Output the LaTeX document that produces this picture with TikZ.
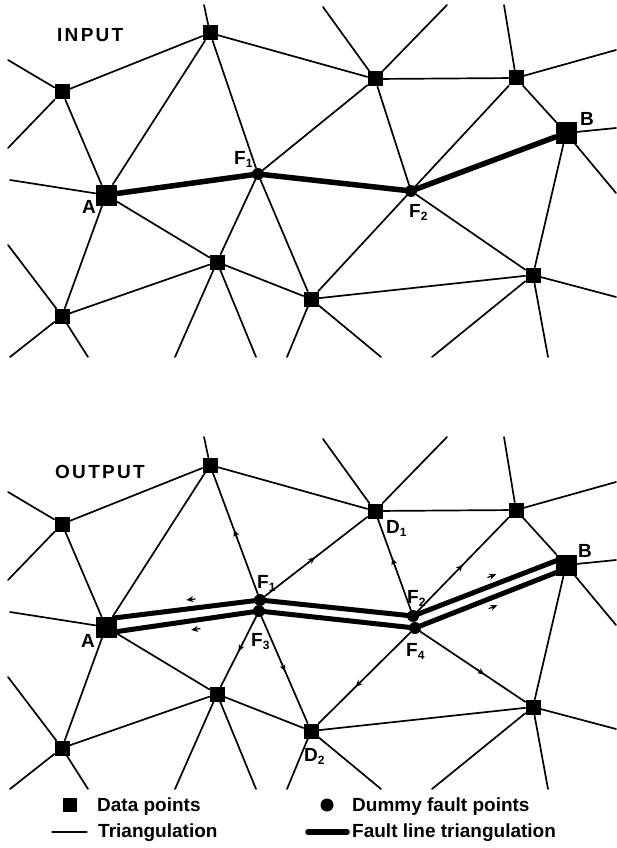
\documentclass[tikz,border=0pt]{standalone}
\usepackage{fontspec}
\setmainfont{Liberation Sans}
\newfontfamily\spacedfont{Liberation Sans}[LetterSpace=12]
\usetikzlibrary{arrows.meta,decorations.markings}
\tikzset{
    meshpic/.style={
        x=1pt, y=-1pt,
        line cap=round, line join=round,
    },
    datapt/.style={rectangle, fill=black, inner sep=0pt, minimum size=15pt},
    bigpt/.style={datapt, minimum size=21pt},
    faultpt/.style={circle, fill=black, inner sep=0pt, minimum size=12pt},
    tri/.style={line width=1.7pt},
    fault/.style={line width=5.5pt},
    faultband/.style={line width=5pt},
    ptlabel/.style={font=\bfseries\fontsize{19}{19}\selectfont, inner sep=0pt, anchor=base west},
    paneltitle/.style={font=\spacedfont\bfseries\fontsize{19}{19}\selectfont, inner sep=0pt, anchor=base west},
    keytext/.style={font=\bfseries\fontsize{19}{19}\selectfont, inner sep=0pt, anchor=base west},
    flowtip/.style={-{Stealth[length=7pt,width=6pt]}, line width=1.2pt},
    flow/.style={postaction={decorate, decoration={markings,
        mark=at position #1 with {\draw[flowtip] (-5pt,0pt) -- (4pt,0pt);}}}},
    sideflow/.style 2 args={postaction={decorate, decoration={markings,
        mark=at position #1 with {\draw[flowtip] (-5pt,#2) -- (4pt,#2);}}}},
}
\newcommand{\lsub}[1]{\raisebox{-3.5pt}{\fontsize{12}{12}\selectfont#1}}
% data points and the part of the triangulation both panels share
\newcommand{\meshpoints}{%
    \node[datapt] (n1) at (210,33) {};
    \node[datapt] (n2) at (62,92) {};
    \node[bigpt]  (A)  at (106,195) {};
    \node[datapt] (n3) at (375,79) {};
    \node[datapt] (n4) at (516,78) {};
    \node[bigpt]  (B)  at (566,133) {};
    \node[datapt] (n5) at (217,262) {};
    \node[datapt] (n6) at (62,316) {};
    \node[datapt] (n7) at (311,299) {};
    \node[datapt] (n8) at (533,275) {};
    \draw[tri] (n2) -- (n1) -- (n3) -- (n4) -- (B) -- (n8) -- (n7) -- (n5) -- (n6) -- (A) -- (n2)
        (n1) -- (A) -- (n5);
    % edges running out of the picture
    \foreach \nd/\ex/\ey [count=\k] in {n1/204/5, n2/8/60, n2/8/148, A/10/180, n3/323/7, n3/447/5,
        n4/504/5, n4/616/50, B/616/128, B/616/193, n5/175/357, n5/256/357, n6/8/245, n6/10/357,
        n6/88/357, n7/287/357, n7/381/357, n8/432/357, n8/548/357, n8/616/297}
      {\coordinate (e\k) at (\ex,\ey);
       \draw[tri] (\nd) -- (e\k);}
}

\begin{document}
\begin{tikzpicture}[meshpic]
    \useasboundingbox (0,0) rectangle (616,848);

    % INPUT
    \node[paneltitle] (intitle) at (57,42) {INPUT};
    \meshpoints
    \node[faultpt] (F1) at (258,174) {};
    \node[faultpt] (F2) at (411,191) {};
    \draw[tri] (n1) -- (F1) -- (n5) (n3) -- (F1) -- (n7)
        (n3) -- (F2) -- (n4) (n7) -- (F2) -- (n8);
    \draw[fault] (A) -- (F1.center) -- (F2.center) -- (B);
    \node[ptlabel] (lA) at (82,213) {A};
    \node[ptlabel] (lB) at (580,125) {B};
    \node[ptlabel] (lF1) at (234,164) {F\lsub{1}};
    \node[ptlabel] (lF2) at (409,217) {F\lsub{2}};

    % OUTPUT
    \begin{scope}[yshift=-432pt, name prefix=b-]
        \node[paneltitle] (outtitle) at (55,46) {OUTPUT};
        \meshpoints
        \node[faultpt] (F1) at (260,168) {};
        \node[faultpt] (F3) at (259,179) {};
        \node[faultpt] (F2) at (413,184) {};
        \node[faultpt] (F4) at (415,196) {};
        \coordinate (Au) at ([shift={(8,-9)}]A.center);
        \coordinate (Al) at ([shift={(8,5)}]A.center);
        \coordinate (Bu) at ([shift={(-8,-5)}]B.center);
        \coordinate (Bl) at ([shift={(-6,6)}]B.center);
        \draw[faultband] (Au) -- (F1.center) -- (F2.center) -- (Bu);
        \draw[faultband] (Al) -- (F3.center) -- (F4.center) -- (Bl);
        \foreach \fp/\dp/\ps in {F1/n1/0.5, F1/n3/0.46, F3/n5/0.45, F3/n7/0.48,
            F2/n3/0.53, F2/n4/0.47, F4/n7/0.57, F4/n8/0.58}
          \draw[tri, flow=\ps] (\fp) -- (\dp);
        \path[sideflow={0.47}{-9pt}] (F1.center) -- (Au);
        \path[sideflow={0.45}{9pt}] (F3.center) -- (Al);
        \path[sideflow={0.57}{9pt}] (F2.center) -- (Bu);
        \path[sideflow={0.52}{-9pt}] (F4.center) -- (Bl);
        \node[ptlabel] (lA) at (81,215) {A};
        \node[ptlabel] (lB) at (578,125) {B};
        \node[ptlabel] (lF1) at (257,156) {F\lsub{1}};
        \node[ptlabel] (lF2) at (407,171) {F\lsub{2}};
        \node[ptlabel] (lF3) at (251,214) {F\lsub{3}};
        \node[ptlabel] (lF4) at (406,224) {F\lsub{4}};
        \node[ptlabel] (lD1) at (386,101) {D\lsub{1}};
        \node[ptlabel] (lD2) at (304,329) {D\lsub{2}};
    \end{scope}

    % key
    \node[datapt, minimum size=14pt] (keydata) at (70,805) {};
    \node[keytext] (keydatatxt) at (97,811) {Data points};
    \coordinate (keytri1) at (52,832);
    \coordinate (keytri2) at (87,832);
    \draw[line width=1.2pt] (keytri1) -- (keytri2);
    \node[keytext] (keytritxt) at (98,837) {Triangulation};
    \node[faultpt, minimum size=13pt] (keydummy) at (327,805) {};
    \node[keytext] (keydummytxt) at (352,811) {Dummy fault points};
    \coordinate (keyfault1) at (308,832);
    \coordinate (keyfault2) at (347,832);
    \draw[fault] (keyfault1) -- (keyfault2);
    \node[keytext] (keyfaulttxt) at (352,837) {Fault line triangulation};
\end{tikzpicture}
\end{document}
